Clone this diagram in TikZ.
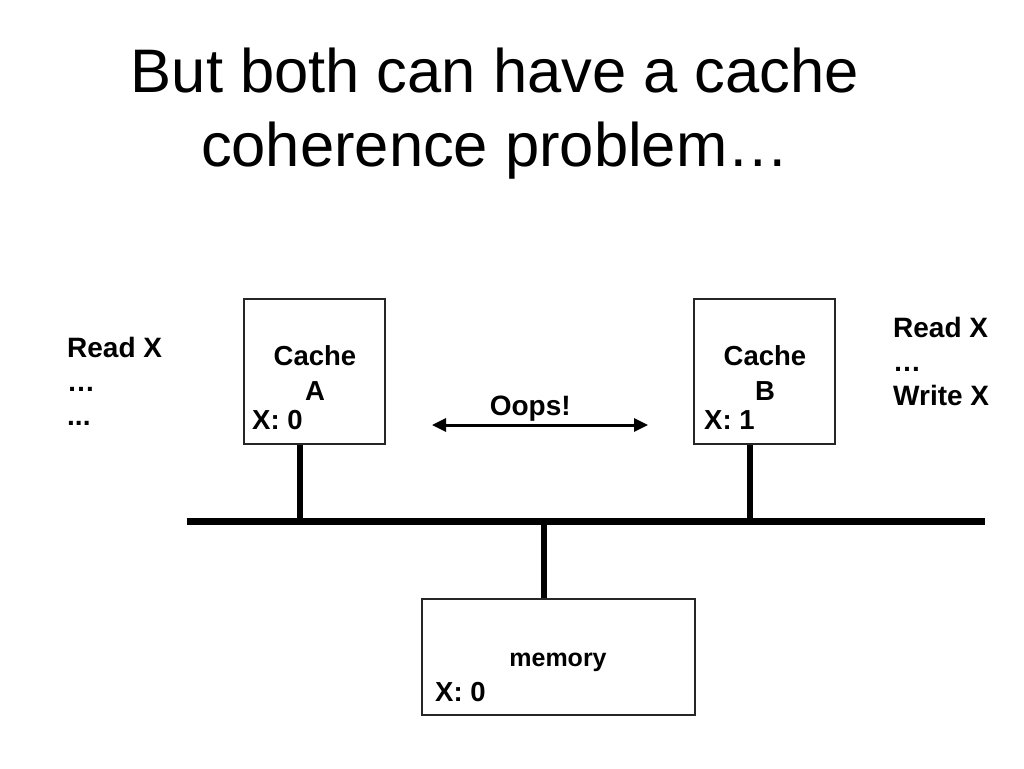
\documentclass[tikz,border=0pt]{standalone}
\usepackage{fontspec}
\setmainfont{Liberation Sans}
\usetikzlibrary{arrows.meta}

\begin{document}
\begin{tikzpicture}[x=1pt, y=-1pt,
    cachebox/.style={rectangle, draw=black!85, line width=1.3pt,
    inner sep=0pt},
    boxtext/.style={font=\fontsize{27.5}{35}\selectfont\bfseries,
    align=center, inner sep=0pt, anchor=base},
    valtext/.style={font=\fontsize{27.5}{33}\selectfont\bfseries,
    inner sep=0pt, anchor=base west},
    sidetext/.style={font=\fontsize{28}{34}\selectfont\bfseries,
    align=left, inner sep=0pt, anchor=base west},
    buswire/.style={line width=7pt},
    tapwire/.style={line width=6.5pt},
    oopslink/.style={{Triangle[length=14pt,width=13pt]}-{Triangle[length=14pt,width=13pt]},
    line width=3pt},
  ]
  \useasboundingbox (0,0) rectangle (1024,768);

  % Title
  \node[font=\fontsize{61.5}{74}\selectfont, align=center, inner sep=0pt,
  anchor=base] (title) at (495,166) {But both can have a cache\\coherence problem…};

  % Cache A (left)
  \node[cachebox, minimum width=141pt, minimum height=145pt] (cacheA) at (314.5,371.5) {};
  \node[boxtext] (nameA) at (315,400) {Cache\\A};
  \node[valtext] (valA) at (252,429) {X: 0};

  % Cache B (right)
  \node[cachebox, minimum width=141pt, minimum height=145pt] (cacheB) at (764.5,371.5) {};
  \node[boxtext] (nameB) at (765,400) {Cache\\B};
  \node[valtext] (valB) at (704,429) {X: 1};

  % Memory (bottom)
  \node[cachebox, minimum width=273pt, minimum height=116pt] (mem) at (558.5,657) {};
  \node[font=\fontsize{25}{30}\selectfont\bfseries, inner sep=0pt,
  anchor=base] (memname) at (558,666) {memory};
  \node[valtext] (valM) at (435,701) {X: 0};

  % Bus and taps
  \coordinate (busL) at (187,521);
  \coordinate (busR) at (985,521);
  \coordinate (tapA) at (300,521);
  \coordinate (tapB) at (750,521);
  \coordinate (tapM) at (544,521);
  \draw[buswire] (busL) -- (busR);
  \draw[tapwire] (tapA |- cacheA.south) -- (tapA);
  \draw[tapwire] (tapB |- cacheB.south) -- (tapB);
  \draw[tapwire] (tapM) -- (tapM |- mem.north);

  % Conflict arrow between the caches
  \coordinate (oopsL) at (432,425);
  \coordinate (oopsR) at (648,425);
  \draw[oopslink] (oopsL) -- node[pos=0.455, above, inner sep=2.5pt,
  font=\fontsize{28}{33}\selectfont\bfseries] (oops) {Oops!} (oopsR);

  % Access sequences
  \node[sidetext] (seqA) at (67,425) {Read X\\…\\...};
  \node[sidetext] (seqB) at (893,405) {Read X\\…\\Write X};
\end{tikzpicture}
\end{document}
